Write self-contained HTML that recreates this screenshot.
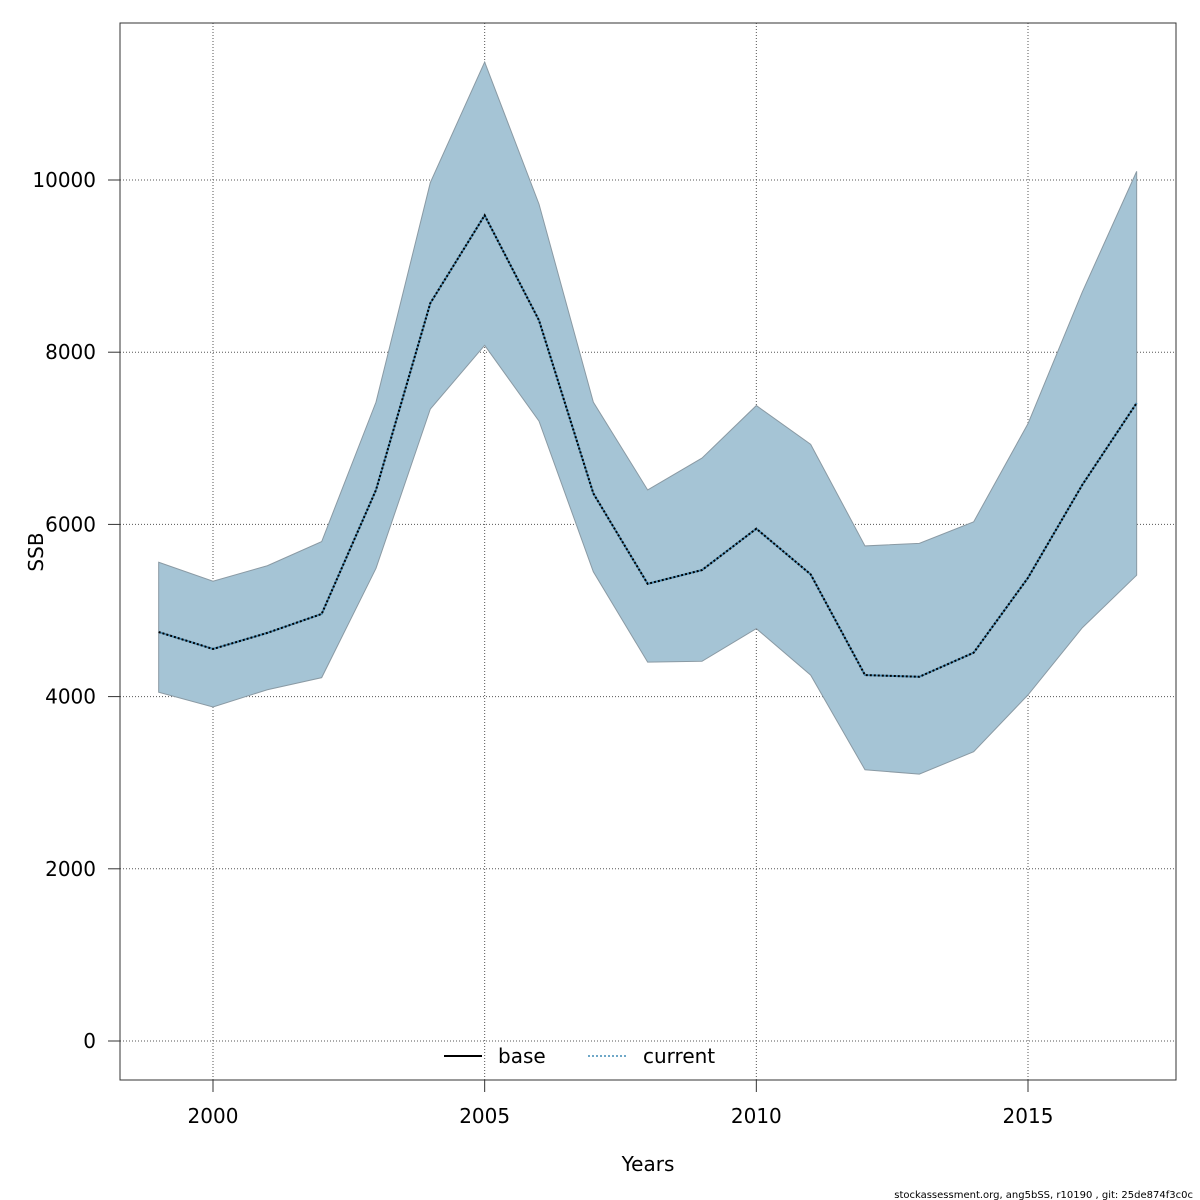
<!DOCTYPE html>
<html><head><meta charset="utf-8"><style>
html,body{margin:0;padding:0;background:#fff;}
svg{display:block;font-family:"DejaVu Sans","Liberation Sans",sans-serif;}
</style></head><body>
<svg id="chart" width="1200" height="1200" viewBox="0 0 1200 1200">
<g id="grid"></g>
<g id="band"></g>
<g id="lines"></g>
<rect x="120" y="23" width="1056" height="1057" fill="none" stroke="#333" stroke-width="1"/>
<g id="axes"></g>
<text x="648" y="1171" font-size="20" text-anchor="middle">Years</text>
<text transform="translate(43,552) rotate(-90)" font-size="20" text-anchor="middle">SSB</text>
<g>
<g>
<line x1="444" y1="1056" x2="482" y2="1056" stroke="#000" stroke-width="2"/>
<text x="498" y="1063" font-size="20">base</text></g>
<g>
<line x1="588" y1="1056" x2="626" y2="1056" stroke="#6fa8c8" stroke-width="2" stroke-dasharray="2,2"/>
<text x="643" y="1063" font-size="20">current</text></g>
</g>
<text x="1193" y="1198" font-size="10" text-anchor="end">stockassessment.org, ang5bSS, r10190 , git: 25de874f3c0c</text>
</svg>
<script>
const years=[1999,2000,2001,2002,2003,2004,2005,2006,2007,2008,2009,2010,2011,2012,2013,2014,2015,2016,2017];
const ssb=[4750,4553,4740,4960,6400,8570,9590,8370,6360,5310,5470,5950,5420,4250,4230,4510,5380,6460,7410];
const upper=[5560,5340,5520,5800,7420,9970,11370,9720,7420,6400,6770,7380,6930,5750,5780,6030,7170,8700,10100];
const lower=[4050,3880,4080,4220,5490,7340,8080,7200,5450,4400,4410,4790,4250,3150,3100,3360,4020,4800,5410];
const xTicks=[2000,2005,2010,2015];
const yTicks=[0,2000,4000,6000,8000,10000];
const NS='http://www.w3.org/2000/svg';
const xs=y=>213+(y-2000)*(1028-213)/15;
const ys=v=>1041-v*(1041-180)/10000;
function mk(tag,attrs,parent){const e=document.createElementNS(NS,tag);for(const k in attrs)e.setAttribute(k,attrs[k]);parent.appendChild(e);return e;}
const grid=document.getElementById('grid'),axes=document.getElementById('axes'),band=document.getElementById('band'),lines=document.getElementById('lines');
xTicks.forEach(t=>{
 const g=mk('line',{x1:xs(t),x2:xs(t),y1:23,y2:1080,stroke:'#555','stroke-dasharray':'1,2'},grid);
 
 
 const tk=mk('line',{x1:xs(t),x2:xs(t),y1:1080,y2:1092,stroke:'#333'},axes);
 
 
 const l=mk('text',{x:xs(t),y:1123,'font-size':20,'text-anchor':'middle'},axes);l.textContent=t;
 
 
});
yTicks.forEach(t=>{
 const g=mk('line',{x1:120,x2:1176,y1:ys(t),y2:ys(t),stroke:'#555','stroke-dasharray':'1,2'},grid);
 
 
 const tk=mk('line',{x1:108,x2:120,y1:ys(t),y2:ys(t),stroke:'#333'},axes);
 
 
 const l=mk('text',{x:96,y:ys(t)+7,'font-size':20,'text-anchor':'end'},axes);l.textContent=t;
 
 
});
let pts=years.map((y,i)=>xs(y)+','+ys(upper[i]));
for(let i=years.length-1;i>=0;i--)pts.push(xs(years[i])+','+ys(lower[i]));
const poly=mk('polygon',{points:pts.join(' '),fill:'#a5c4d5',stroke:'#8a9aa4','stroke-width':1},band);


const lp=years.map((y,i)=>xs(y)+','+ys(ssb[i])).join(' ');
const l1=mk('polyline',{points:lp,fill:'none',stroke:'#4a8ab0','stroke-width':2},lines);


const l2=mk('polyline',{points:lp,fill:'none',stroke:'#000','stroke-width':2,'stroke-dasharray':'2,2'},lines);


</script>
</body></html>
